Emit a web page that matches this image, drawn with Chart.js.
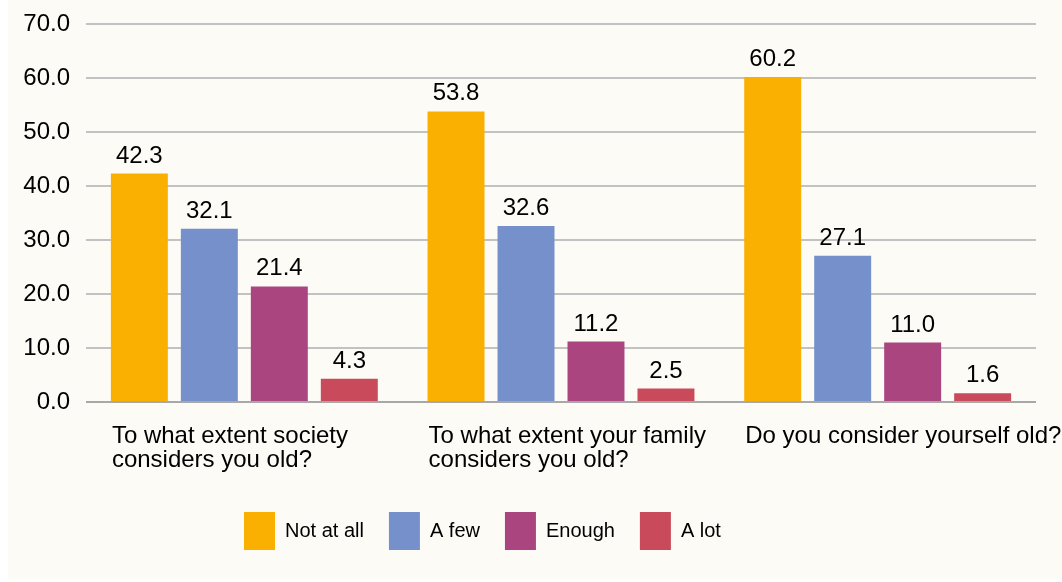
<!DOCTYPE html>
<html>
<head>
<meta charset="utf-8">
<script src="https://cdn.jsdelivr.net/npm/chart.js@4.4.1/dist/chart.umd.min.js"></script>
<style>
  html, body { margin: 0; padding: 0; background: #ffffff; }
  #wrap { position: relative; width: 1062px; height: 582px; overflow: hidden; }
  #bg { position: absolute; left: 8px; top: 0; right: 0; bottom: 3px; background: #FCFBF6; }
  #c { position: absolute; left: 0; top: 0; }
</style>
</head>
<body>
<div id="wrap"><div id="bg"></div><canvas id="c" width="1062" height="582"></canvas></div>
<script>
const categories = [
  ["To what extent society", "considers you old?"],
  ["To what extent your family", "considers you old?"],
  ["Do you consider yourself old?"]
];
const seriesNames = ["Not at all", "A few", "Enough", "A lot"];
const notAtAll = [42.3, 53.8, 60.2];
const aFew = [32.1, 32.6, 27.1];
const enough = [21.4, 11.2, 11.0];
const aLot = [4.3, 2.5, 1.6];
const yTicks = [0, 10, 20, 30, 40, 50, 60, 70];
const colors = ["#F9B000", "#7590CA", "#AA4580", "#C94B5B"];

const FONT = "'Liberation Sans', Arial, sans-serif";
const TEXT = "#000000";

const valueLabels = {
  id: 'valueLabels',
  afterDatasetsDraw(chart) {
    const ctx = chart.ctx;
    ctx.save();
    ctx.font = "24px " + FONT;
    ctx.fillStyle = TEXT;
    ctx.textAlign = 'center';
    ctx.textBaseline = 'alphabetic';
    chart.data.datasets.forEach((ds, di) => {
      chart.getDatasetMeta(di).data.forEach((el, i) => {
        ctx.fillText(ds.data[i].toFixed(1), el.x, el.y - 11);
      });
    });
    ctx.restore();
  }
};

const categoryLabels = {
  id: 'categoryLabels',
  afterDraw(chart) {
    const ctx = chart.ctx;
    const meta = chart.getDatasetMeta(0);
    const bottom = chart.chartArea.bottom;
    ctx.save();
    ctx.font = "24px " + FONT;
    ctx.fillStyle = TEXT;
    ctx.textAlign = 'left';
    ctx.textBaseline = 'alphabetic';
    chart.data.labels.forEach((lab, i) => {
      const el = meta.data[i];
      const x = el.x - el.width / 2;
      const lines = Array.isArray(lab) ? lab : [lab];
      lines.forEach((ln, k) => ctx.fillText(ln, x + 1, bottom + 41 + k * 24));
    });
    ctx.restore();
  }
};

const legendShift = {
  id: 'legendShift',
  afterLayout(chart) {
    if (chart.legend) { chart.legend.left = 219; }
  }
};

const grid0 = '#A8A8A8';
const gridN = '#C2C2C2';

new Chart(document.getElementById('c'), {
  type: 'bar',
  data: {
    labels: categories,
    datasets: [
      { label: seriesNames[0], data: notAtAll, backgroundColor: colors[0] },
      { label: seriesNames[1], data: aFew, backgroundColor: colors[1] },
      { label: seriesNames[2], data: enough, backgroundColor: colors[2] },
      { label: seriesNames[3], data: aLot, backgroundColor: colors[3] }
    ]
  },
  options: {
    responsive: false,
    animation: false,
    devicePixelRatio: 1,
    layout: { padding: { top: 24, right: 26, bottom: 22, left: 0 } },
    datasets: { bar: { categoryPercentage: 0.884, barPercentage: 0.814 } },
    plugins: {
      tooltip: { enabled: false },
      legend: {
        position: 'bottom',
        align: 'start',
        labels: {
          boxWidth: 31,
          boxHeight: 38,
          padding: 25,
          color: TEXT,
          font: { family: FONT, size: 20 }
        }
      }
    },
    scales: {
      x: {
        grid: { display: false },
        border: { display: false },
        ticks: { display: false },
        afterFit(scale) { scale.height = 85; }
      },
      y: {
        min: 0,
        max: 70,
        afterBuildTicks(scale) { scale.ticks = yTicks.map(v => ({ value: v })); },
        ticks: {
          padding: 16,
          color: TEXT,
          font: { family: FONT, size: 24 },
          callback: (v) => Number(v).toFixed(1)
        },
        grid: {
          drawTicks: false,
          lineWidth: 2,
          color: (c) => (c.tick && c.tick.value === 0 ? grid0 : gridN)
        },
        border: { display: false },
        afterFit(scale) {
          scale.width = 86;
          scale.paddingTop = 10;
          scale.paddingBottom = 10;
        }
      }
    }
  },
  plugins: [valueLabels, categoryLabels, legendShift]
});
</script>
</body>
</html>
